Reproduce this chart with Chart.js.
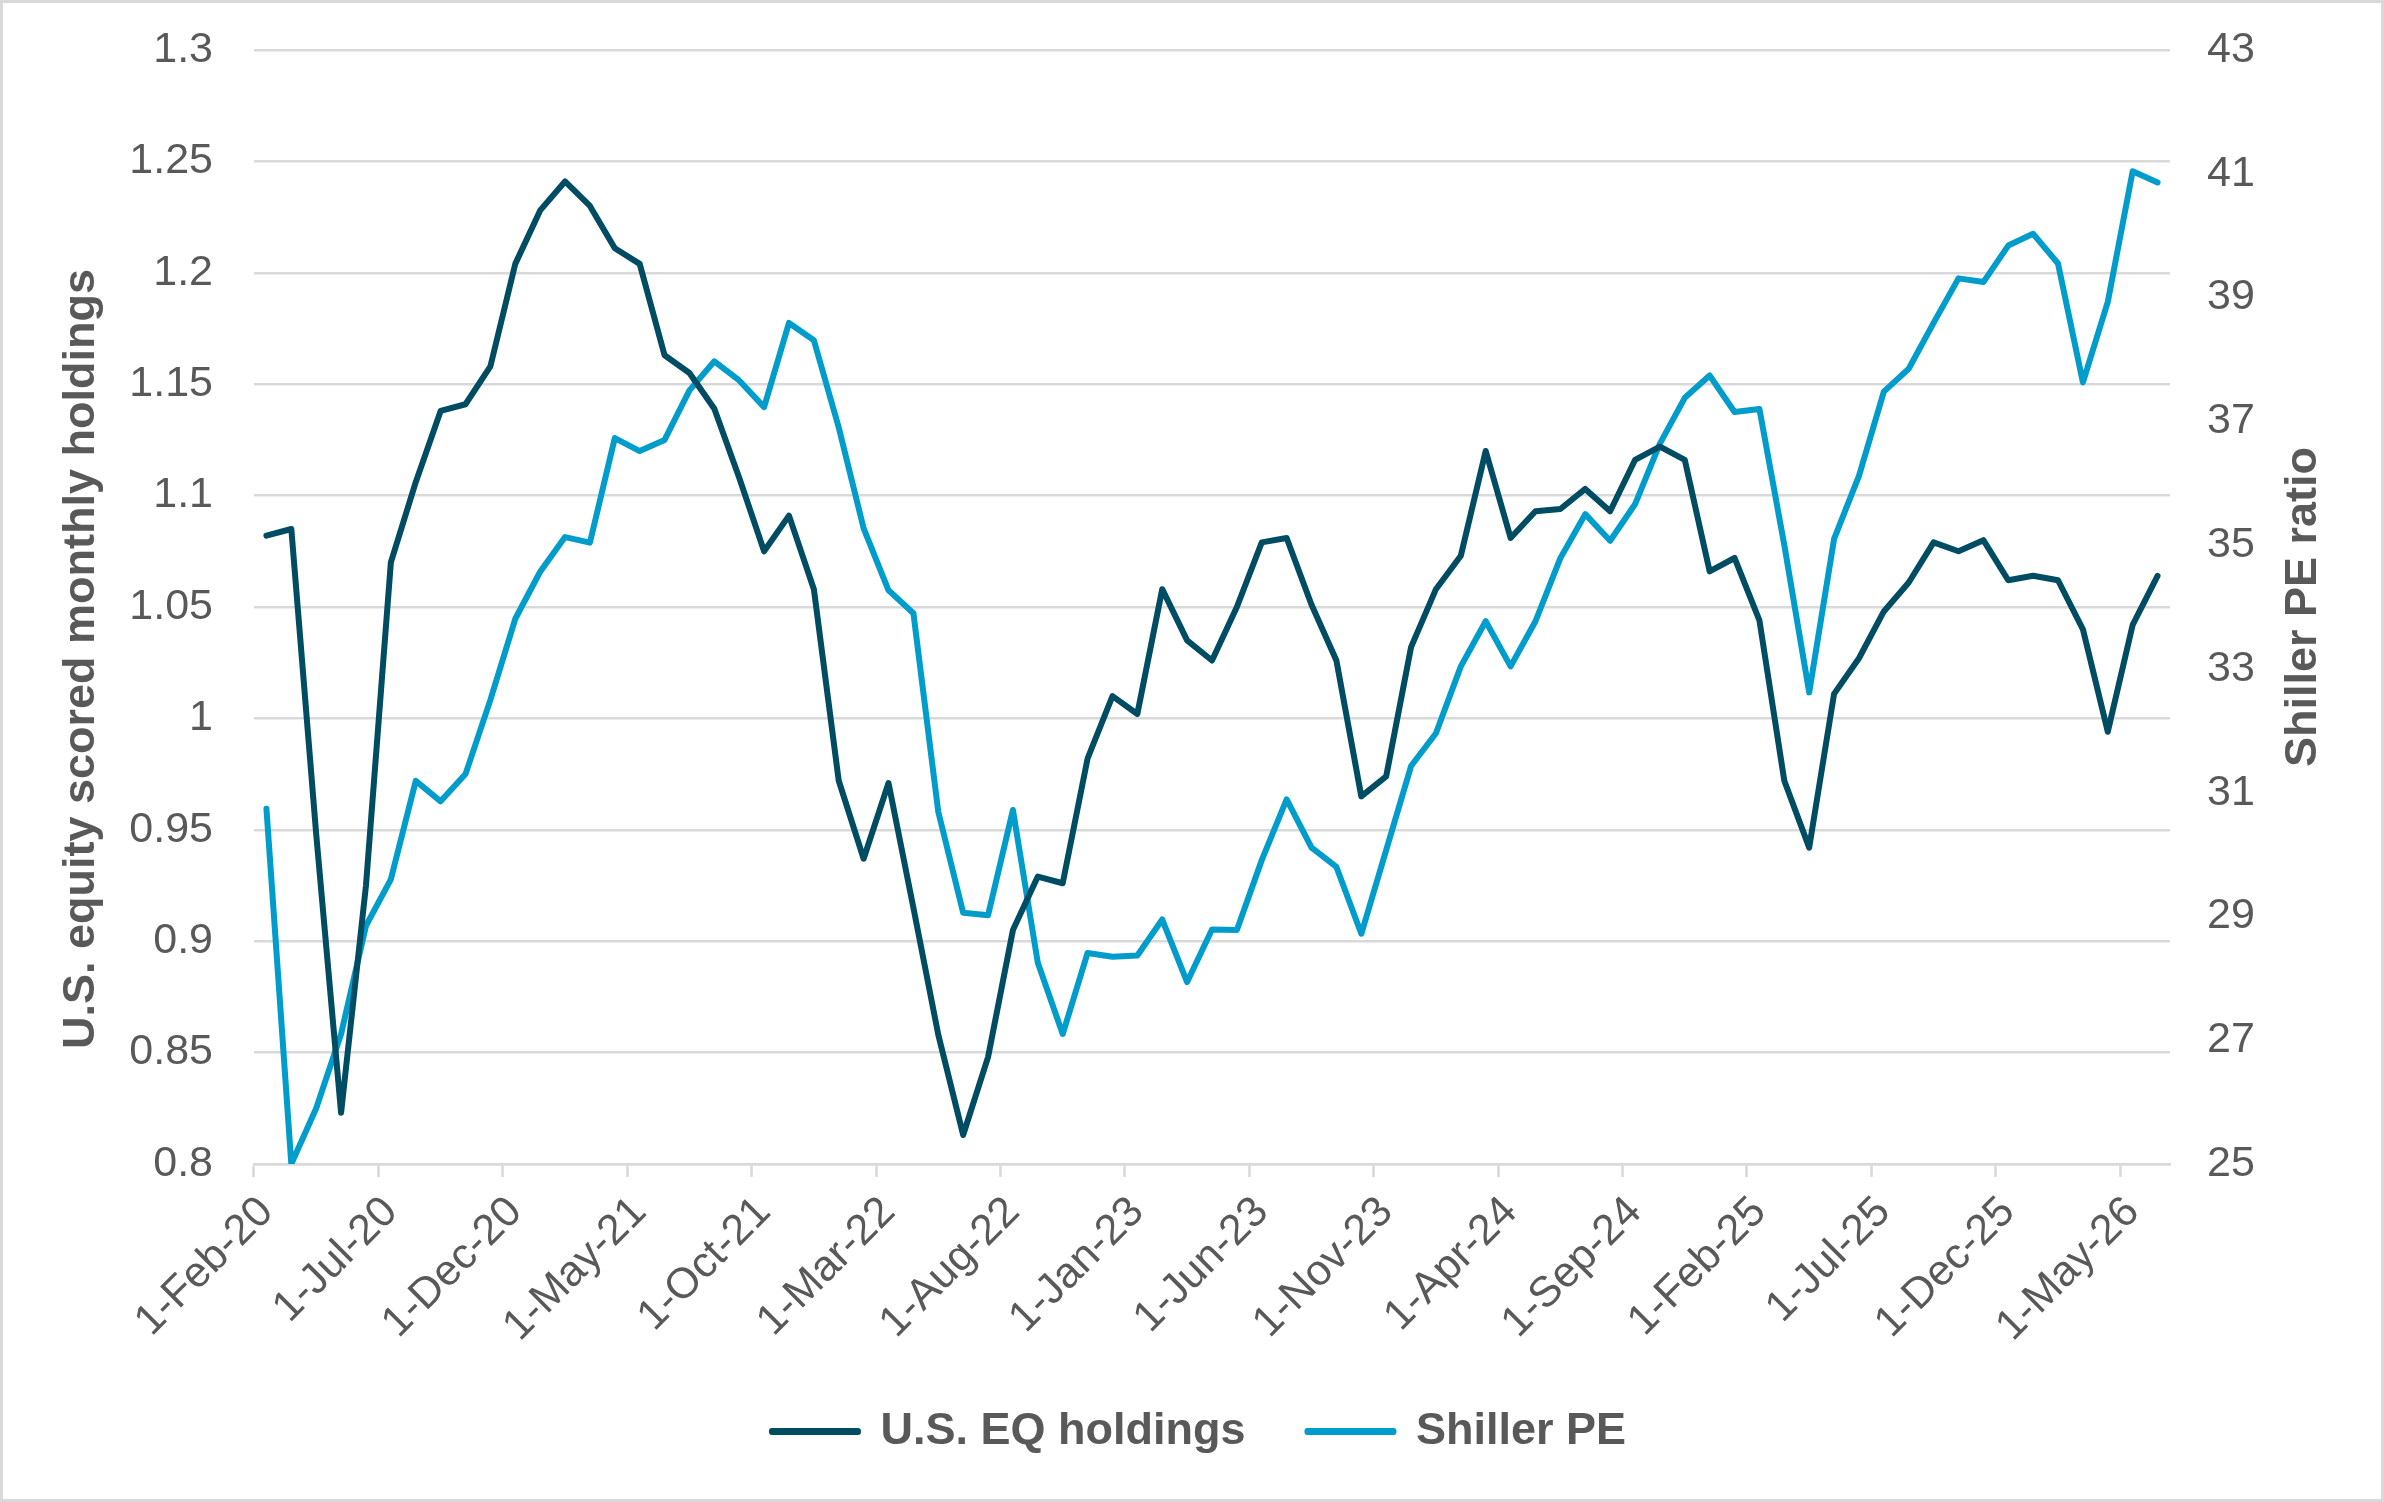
<!DOCTYPE html>
<html>
<head>
<meta charset="utf-8">
<script src="https://cdn.jsdelivr.net/npm/chart.js@4.4.1/dist/chart.umd.min.js"></script>
<style>
    html, body { margin: 0; padding: 0; background: #ffffff; }
    #wrap {
        width: 2384px; height: 1502px;
        box-sizing: border-box;
        border: 3px solid #d9d9d9;
        background: #ffffff;
    }
    #chart { display: block; }
</style>
</head>
<body>
<div id="wrap"><canvas id="chart" width="2378" height="1496"></canvas></div>
<script>
// months, Feb-20 .. Jun-26
const months = [
    '1-Feb-20','1-Mar-20','1-Apr-20','1-May-20','1-Jun-20','1-Jul-20','1-Aug-20','1-Sep-20','1-Oct-20','1-Nov-20','1-Dec-20',
    '1-Jan-21','1-Feb-21','1-Mar-21','1-Apr-21','1-May-21','1-Jun-21','1-Jul-21','1-Aug-21','1-Sep-21','1-Oct-21','1-Nov-21','1-Dec-21',
    '1-Jan-22','1-Feb-22','1-Mar-22','1-Apr-22','1-May-22','1-Jun-22','1-Jul-22','1-Aug-22','1-Sep-22','1-Oct-22','1-Nov-22','1-Dec-22',
    '1-Jan-23','1-Feb-23','1-Mar-23','1-Apr-23','1-May-23','1-Jun-23','1-Jul-23','1-Aug-23','1-Sep-23','1-Oct-23','1-Nov-23','1-Dec-23',
    '1-Jan-24','1-Feb-24','1-Mar-24','1-Apr-24','1-May-24','1-Jun-24','1-Jul-24','1-Aug-24','1-Sep-24','1-Oct-24','1-Nov-24','1-Dec-24',
    '1-Jan-25','1-Feb-25','1-Mar-25','1-Apr-25','1-May-25','1-Jun-25','1-Jul-25','1-Aug-25','1-Sep-25','1-Oct-25','1-Nov-25','1-Dec-25',
    '1-Jan-26','1-Feb-26','1-Mar-26','1-Apr-26','1-May-26','1-Jun-26'
];

const usEqHoldings = [
    1.082, 1.085, 0.948, 0.823, 0.925, 1.070, 1.106, 1.138, 1.141, 1.158,
    1.204, 1.228, 1.241, 1.230, 1.211, 1.204, 1.163, 1.155, 1.139, 1.108,
    1.075, 1.091, 1.058, 0.972, 0.937, 0.971, 0.915, 0.858, 0.813, 0.848,
    0.905, 0.929, 0.926, 0.982, 1.010, 1.002, 1.058, 1.035, 1.026, 1.050,
    1.079, 1.081, 1.051, 1.026, 0.965, 0.974, 1.032, 1.058, 1.073, 1.120,
    1.081, 1.093, 1.094, 1.103, 1.093, 1.116, 1.122, 1.116, 1.066, 1.072,
    1.044, 0.972, 0.942, 1.011, 1.027, 1.048, 1.061, 1.079, 1.075, 1.080,
    1.062, 1.064, 1.062, 1.040, 0.994, 1.042, 1.064
];

const shillerPE = [
    30.74, 25.00, 25.90, 27.10, 28.85, 29.60, 31.19, 30.86, 31.30, 32.50,
    33.81, 34.57, 35.13, 35.04, 36.73, 36.52, 36.70, 37.50, 37.97, 37.66,
    37.23, 38.59, 38.31, 36.90, 35.27, 34.27, 33.90, 30.69, 29.06, 29.02,
    30.72, 28.25, 27.10, 28.41, 28.35, 28.37, 28.95, 27.94, 28.79, 28.78,
    29.91, 30.89, 30.11, 29.80, 28.72, 30.07, 31.43, 31.96, 33.04, 33.77,
    33.04, 33.77, 34.79, 35.50, 35.07, 35.66, 36.64, 37.38, 37.74, 37.15,
    37.20, 35.00, 32.62, 35.10, 36.12, 37.48, 37.85, 38.59, 39.31, 39.25,
    39.84, 40.03, 39.55, 37.63, 38.93, 41.04, 40.86
];

const leftTicks = [0.8, 0.85, 0.9, 0.95, 1, 1.05, 1.1, 1.15, 1.2, 1.25, 1.3];
const rightTicks = [25, 27, 29, 31, 33, 35, 37, 39, 41, 43];

const textColor = '#595959';
const gridColor = '#d9d9d9';
const darkTeal = '#004c63';
const lightBlue = '#009dcc';
const fontFamily = '"Liberation Sans", Arial, sans-serif';

// axis titles drawn by hand so both read bottom-to-top like the original
const axisTitles = {
    id: 'axisTitles',
    afterDraw(chart) {
        const { ctx, chartArea } = chart;
        ctx.save();
        ctx.fillStyle = textColor;
        ctx.font = 'bold 45px ' + fontFamily;
        ctx.textAlign = 'center';
        ctx.textBaseline = 'alphabetic';

        ctx.save();
        ctx.translate(91, 656);
        ctx.rotate(-Math.PI / 2);
        ctx.fillText('U.S. equity scored monthly holdings', 0, 0);
        ctx.restore();

        ctx.save();
        ctx.translate(2313, (chartArea.top + chartArea.bottom) / 2);
        ctx.rotate(-Math.PI / 2);
        ctx.fillText('Shiller PE ratio', 0, 0);
        ctx.restore();

        ctx.restore();
    }
};

const ctx = document.getElementById('chart').getContext('2d');
new Chart(ctx, {
    type: 'line',
    data: {
        labels: months,
        datasets: [
            {
                label: 'U.S. EQ holdings',
                data: usEqHoldings,
                yAxisID: 'y',
                borderColor: darkTeal,
                backgroundColor: darkTeal,
                borderWidth: 6,
                borderJoinStyle: 'round',
                borderCapStyle: 'round',
                pointRadius: 0,
                tension: 0
            },
            {
                label: 'Shiller PE',
                data: shillerPE,
                yAxisID: 'y2',
                borderColor: lightBlue,
                backgroundColor: lightBlue,
                borderWidth: 6,
                borderJoinStyle: 'round',
                borderCapStyle: 'round',
                pointRadius: 0,
                tension: 0
            }
        ]
    },
    options: {
        responsive: false,
        animation: false,
        layout: { padding: { top: 47, bottom: 35, left: 14, right: 0 } },
        plugins: {
            legend: {
                position: 'bottom',
                labels: {
                    color: textColor,
                    font: { family: fontFamily, size: 45, weight: 'bold' },
                    boxWidth: 86,
                    boxHeight: 1,
                    padding: 62
                }
            },
            tooltip: { enabled: false }
        },
        scales: {
            x: {
                type: 'category',
                offset: true,
                grid: {
                    offset: true,
                    drawOnChartArea: false,
                    drawTicks: true,
                    tickLength: 13,
                    tickWidth: 2.5,
                    tickColor: c => (c.index % 5 === 0 ? gridColor : 'rgba(0,0,0,0)')
                },
                border: { display: true, color: gridColor, width: 2.5 },
                ticks: {
                    autoSkip: false,
                    maxRotation: 45,
                    minRotation: 45,
                    padding: 10,
                    color: textColor,
                    font: { family: fontFamily, size: 43 },
                    callback: function (value, index) {
                        return index % 5 === 0 ? this.getLabelForValue(value) : '';
                    }
                },
                afterFit: s => { s.height = 183; }
            },
            y: {
                position: 'left',
                min: 0.8,
                max: 1.3,
                afterBuildTicks: s => { s.ticks = leftTicks.map(v => ({ value: v })); },
                grid: {
                    color: gridColor,
                    lineWidth: 2.5,
                    drawTicks: true,
                    tickLength: 41,
                    tickColor: 'rgba(0,0,0,0)'
                },
                border: { display: false },
                ticks: {
                    padding: 0,
                    color: textColor,
                    font: { family: fontFamily, size: 43 },
                    callback: v => String(parseFloat(v.toFixed(2)))
                },
                afterFit: s => { s.width = 237; }
            },
            y2: {
                position: 'right',
                min: 25,
                max: 43,
                afterBuildTicks: s => { s.ticks = rightTicks.map(v => ({ value: v })); },
                grid: {
                    drawOnChartArea: false,
                    drawTicks: true,
                    tickLength: 37,
                    tickColor: 'rgba(0,0,0,0)'
                },
                border: { display: false },
                ticks: {
                    padding: 0,
                    color: textColor,
                    font: { family: fontFamily, size: 43 },
                    callback: v => String(v)
                },
                afterFit: s => { s.width = 211; }
            }
        }
    },
    plugins: [axisTitles]
});
</script>
</body>
</html>
